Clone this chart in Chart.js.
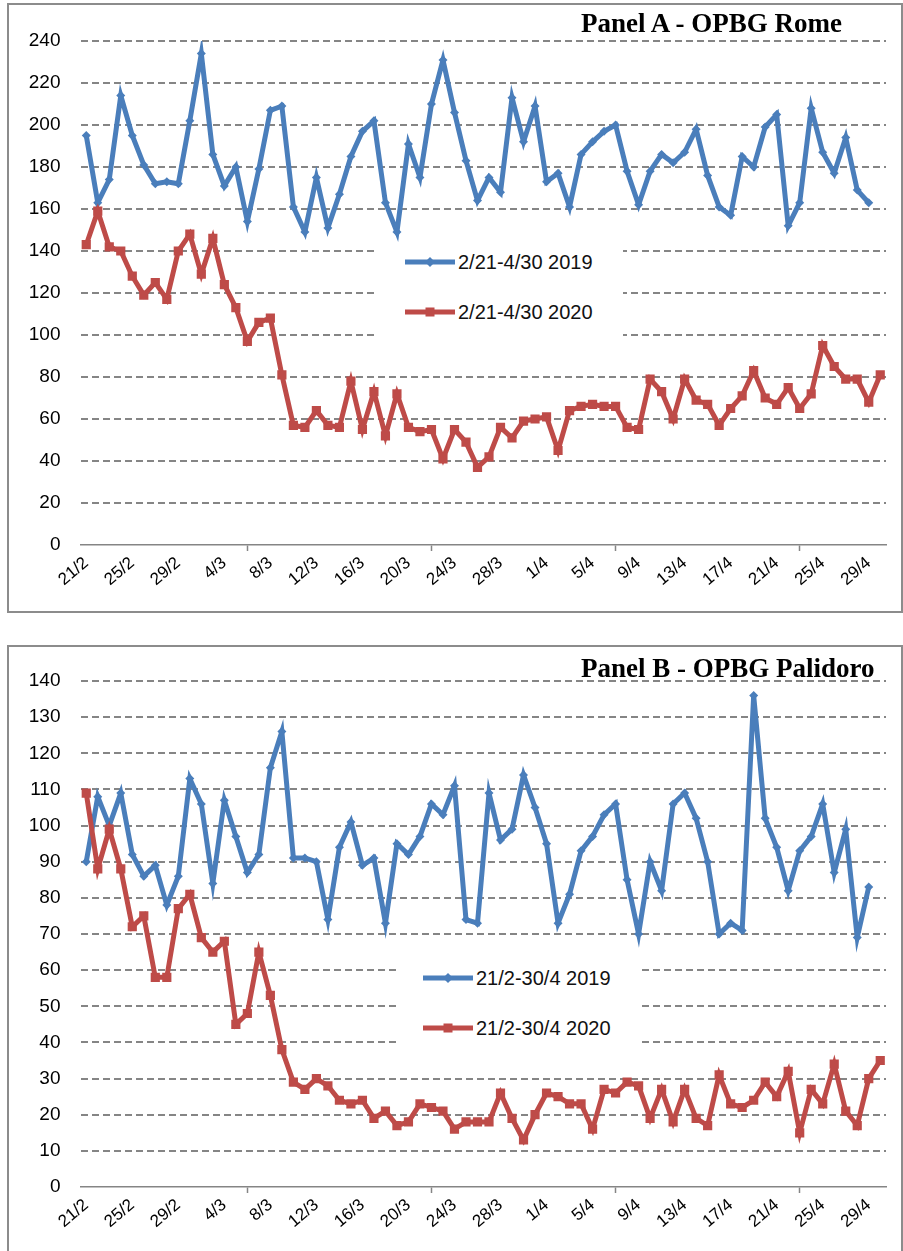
<!DOCTYPE html>
<html>
<head>
<meta charset="utf-8">
<script src="https://cdn.jsdelivr.net/npm/chart.js@4.4.0/dist/chart.umd.min.js"></script>
<style>
  body { margin: 0; background: #fff; width: 903px; height: 1251px; overflow: hidden; position: relative; font-family: "Liberation Sans", Arial, sans-serif; }
  .panel { position: absolute; left: 7px; width: 896px; height: 610px; box-sizing: border-box; border: 2px solid #8c8c8c; }
  .panel canvas { display: block; }
  .title { position: absolute; font-family: "Liberation Serif", "Times New Roman", serif; font-weight: bold; font-size: 27px; line-height: 27px; color: #000; white-space: nowrap; }
  .legend { position: absolute; background: #fff; }
  .row { position: absolute; height: 24px; display: flex; align-items: center; font-size: 20px; color: #111; white-space: nowrap; }
  .row svg { margin-right: 3px; }
</style>
</head>
<body>
<div class="panel" style="top:3px;"><canvas id="chartA" width="892" height="606"></canvas></div>
<div class="panel" style="top:645px;"><canvas id="chartB" width="892" height="606"></canvas></div>
<div class="title" style="left:581px;top:10px;">Panel A - OPBG Rome</div>
<div class="title" style="left:581px;top:655px;">Panel B - OPBG Palidoro</div>
<div class="legend" id="legA" style="left:376px;top:242px;width:247px;height:100px;"></div>
<div class="legend" id="legB" style="left:397px;top:958px;width:241px;height:94px;"></div>

<script>
// categorie (giorni 21/2 - 30/4)
var days = ['21/2','22/2','23/2','24/2','25/2','26/2','27/2','28/2','29/2',
  '1/3','2/3','3/3','4/3','5/3','6/3','7/3','8/3','9/3','10/3','11/3','12/3','13/3','14/3','15/3','16/3',
  '17/3','18/3','19/3','20/3','21/3','22/3','23/3','24/3','25/3','26/3','27/3','28/3','29/3','30/3','31/3',
  '1/4','2/4','3/4','4/4','5/4','6/4','7/4','8/4','9/4','10/4','11/4','12/4','13/4','14/4','15/4',
  '16/4','17/4','18/4','19/4','20/4','21/4','22/4','23/4','24/4','25/4','26/4','27/4','28/4','29/4','30/4'];

// Panel A - OPBG Rome
var namesA = ['2/21-4/30 2019', '2/21-4/30 2020'];
var romeA2019 = [195,163,174,214,195,181,172,173,172,202,
  234,186,171,180,154,179,207,209,161,149,
  175,151,167,185,197,202,163,149,191,175,
  210,231,206,183,164,175,168,213,192,209,
  173,177,161,186,192,197,200,178,162,178,
  186,182,187,198,176,161,157,185,180,199,
  205,152,163,208,187,177,194,169,163];
var romeA2020 = [143,159,142,140,128,119,125,117,140,148,
  129,146,124,113,97,106,108,81,57,56,
  64,57,56,78,55,73,52,72,56,54,
  55,41,55,49,37,42,56,51,59,60,
  61,45,64,66,67,66,66,56,55,79,
  73,60,79,69,67,57,65,71,83,70,
  67,75,65,72,95,85,79,79,68,81];

// Panel B - OPBG Palidoro
var namesB = ['21/2-30/4 2019', '21/2-30/4 2020'];
var palB2019 = [90,108,100,109,92,86,89,78,86,113,
  106,84,107,97,87,92,116,126,91,91,
  90,74,94,101,89,91,73,95,92,97,
  106,103,111,74,73,109,96,99,114,105,
  95,73,81,93,97,103,106,85,70,90,
  82,106,109,102,90,70,73,71,136,102,
  94,82,93,97,106,87,99,69,83];
var palB2020 = [109,88,99,88,72,75,58,58,77,81,
  69,65,68,45,48,65,53,38,29,27,
  30,28,24,23,24,19,21,17,18,23,
  22,21,16,18,18,18,26,19,13,20,
  26,25,23,23,16,27,26,29,28,19,
  27,18,27,19,17,31,23,22,24,29,
  25,32,15,27,23,34,21,17,30,35];

var BLUE = '#4A7EBB';
var RED = '#BE4B48';
var GRID = '#858585';

function makeChart(id, names, s2019, s2020, yMax, yStep, topPad) {
  return new Chart(document.getElementById(id).getContext('2d'), {
    type: 'line',
    data: {
      labels: days,
      datasets: [{
        label: names[0],
        data: s2019,
        borderColor: BLUE,
        backgroundColor: BLUE,
        borderWidth: 5,
        pointStyle: 'rectRot',
        pointRadius: 4.5,
        pointBorderWidth: 0,
        tension: 0,
        order: 1
      }, {
        label: names[1],
        data: s2020,
        borderColor: RED,
        backgroundColor: RED,
        borderWidth: 5,
        pointStyle: 'rect',
        pointRadius: 6.5,
        pointBorderWidth: 0,
        tension: 0,
        order: 0
      }]
    },
    options: {
      responsive: false,
      animation: false,
      layout: { padding: { left: 0, right: 15, top: topPad, bottom: 0 } },
      plugins: { legend: { display: false }, tooltip: { enabled: false } },
      scales: {
        x: {
          offset: true,
          grid: {
            offset: true,
            drawOnChartArea: false,
            drawTicks: true,
            tickLength: 6,
            tickWidth: 1.5,
            tickColor: function (c) { return c.index % 4 === 0 ? GRID : 'rgba(0,0,0,0)'; }
          },
          border: { display: true, color: GRID, width: 1.5 },
          ticks: {
            autoSkip: false,
            minRotation: 40,
            maxRotation: 40,
            padding: 2,
            color: '#000',
            font: { family: 'Liberation Sans', size: 17 },
            callback: function (v, i) { return i % 4 === 0 ? this.getLabelForValue(v) : null; }
          },
          afterFit: function (s) { s.height = 66; }
        },
        y: {
          min: 0,
          max: yMax,
          ticks: { stepSize: yStep, padding: 20, color: '#000', font: { family: 'Liberation Sans', size: 19 } },
          grid: {
            color: function (c) { return c.tick && c.tick.value === 0 ? 'rgba(0,0,0,0)' : GRID; },
            lineWidth: 2,
            drawTicks: false
          },
          border: { display: false, dash: [7, 4] },
          afterFit: function (s) { s.width = 71.5; }
        }
      }
    }
  });
}

function makeLegend(id, names, sampleLeft) {
  var box = document.getElementById(id);
  var styles = [
    { color: BLUE, marker: '<polygon points="25,7 30,12 25,17 20,12" fill="' + BLUE + '"/>' },
    { color: RED, marker: '<rect x="20.5" y="7.5" width="9" height="9" fill="' + RED + '"/>' }
  ];
  names.forEach(function (name, i) {
    var row = document.createElement('div');
    row.className = 'row';
    row.style.left = sampleLeft + 'px';
    row.style.top = (8 + i * 50) + 'px';
    row.innerHTML = '<svg width="50" height="24"><line x1="0" y1="12" x2="50" y2="12" stroke="' +
      styles[i].color + '" stroke-width="5"/>' + styles[i].marker + '</svg><span>' + name + '</span>';
    box.appendChild(row);
  });
}

makeChart('chartA', namesA, romeA2019, romeA2020, 240, 20, 36);
makeChart('chartB', namesB, palB2019, palB2020, 140, 10, 34);
makeLegend('legA', namesA, 29);
makeLegend('legB', namesB, 26);
</script>
</body>
</html>
